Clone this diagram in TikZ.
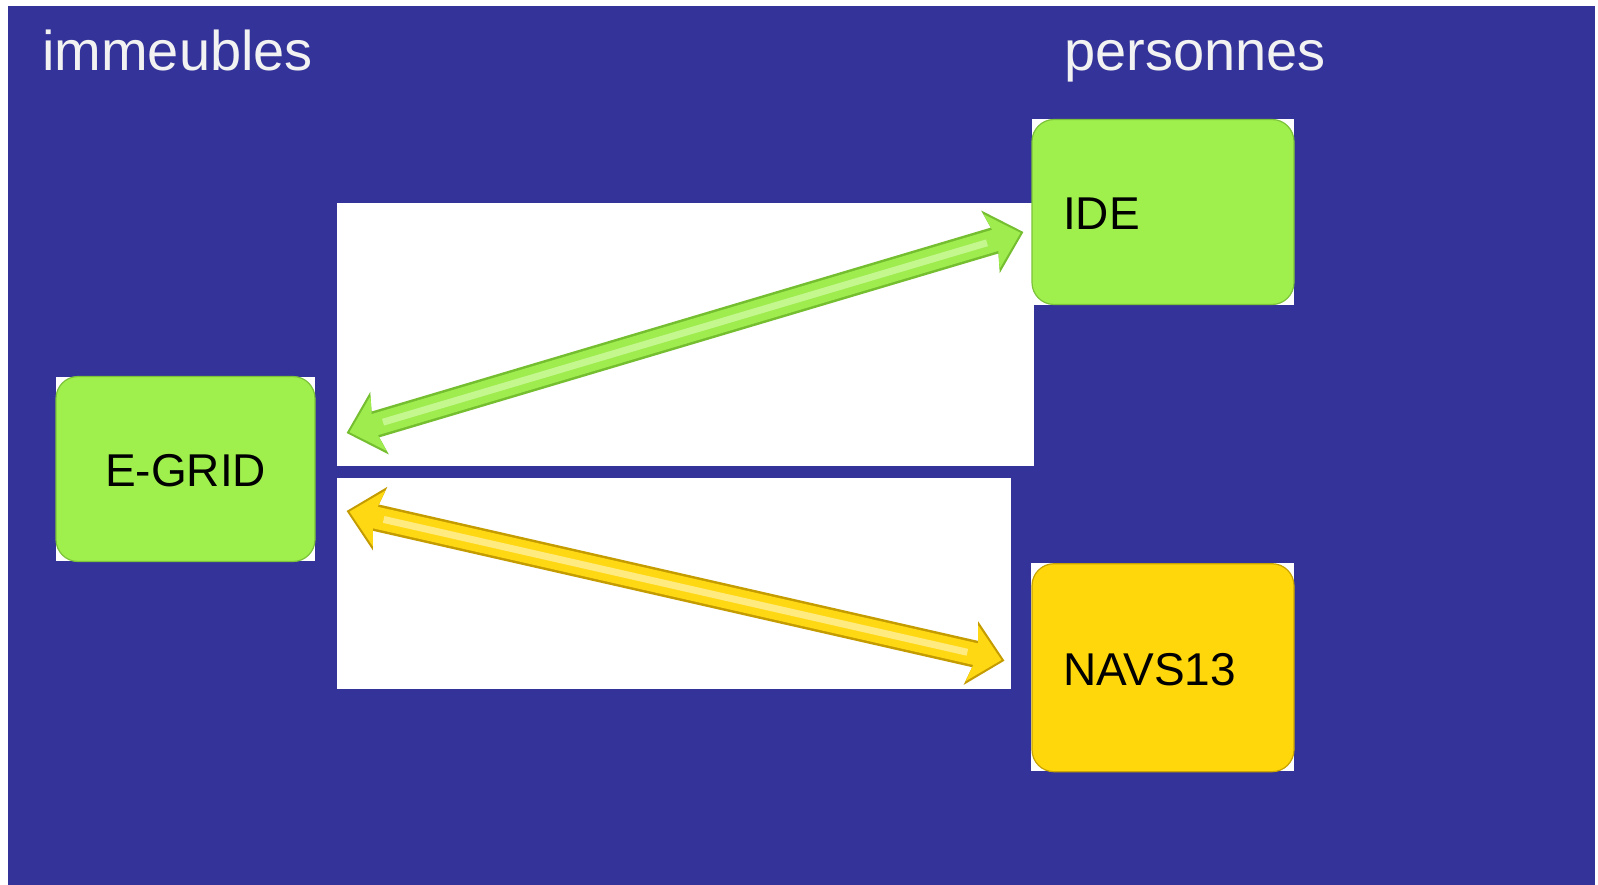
\documentclass[tikz,border=0pt]{standalone}
\usepackage{fontspec}
\setmainfont{Liberation Sans}
\usepackage{tikz}
\usetikzlibrary{arrows.meta,positioning}

\definecolor{slideblue}{HTML}{333399}
\definecolor{titlegray}{HTML}{F2F2F2}
\definecolor{boxgreen}{HTML}{9FF04C}
\definecolor{boxgreenedge}{HTML}{7CC23A}
\definecolor{boxyellow}{HTML}{FFD70A}
\definecolor{boxyellowedge}{HTML}{C9A400}
\definecolor{greenrim}{HTML}{74BE30}
\definecolor{greenbody}{HTML}{9EEC4E}
\definecolor{greenshine}{HTML}{C4F78E}
\definecolor{yellowrim}{HTML}{C49C00}
\definecolor{yellowbody}{HTML}{FFD814}
\definecolor{yellowshine}{HTML}{FFEB80}

\begin{document}
\begin{tikzpicture}[
        x=1pt, y=-1pt,
        title/.style={text=titlegray, inner sep=0pt, anchor=base west,
                      font=\fontsize{56}{60}\selectfont},
        block/.style={rectangle, rounded corners=22pt, draw=boxgreenedge, line width=1.2pt,
                      fill=boxgreen, minimum width=259pt, minimum height=185pt,
                      font=\fontsize{46}{50}\selectfont, inner sep=0pt,
                      text height=35pt, text depth=0pt},
        leftblock/.style={block, text width=200pt, align=left, inner xsep=31pt},
        backing/.style={fill=white, draw=none},
        link/.style={line width=27pt, {Stealth[length=34pt,width=64pt,inset=7pt]}-{Stealth[length=34pt,width=64pt,inset=7pt]}},
        body/.style={line width=22pt, shorten <=3pt, shorten >=3pt,
                     {Stealth[length=30pt,width=56pt,inset=6pt]}-{Stealth[length=30pt,width=56pt,inset=6pt]}},
        shine/.style={line width=7pt, shorten <=38pt, shorten >=38pt}
      ]
        % page and background
        \useasboundingbox [fill=white] (0,0) rectangle (1598,885);
        \fill [slideblue] (8,6) rectangle (1595,885);

        % Titles
        \node [title] (immeubles) at (42,71) {immeubles};
        \node [title] (personnes) at (1064,71) {personnes};

        % white backings of the pictures
        \fill [backing] (337,203) rectangle (1034,466);
        \fill [backing] (337,478) rectangle (1011,689);
        \fill [backing] (56,377) rectangle (315,561);
        \fill [backing] (1032,119) rectangle (1294,305);
        \fill [backing] (1031,563) rectangle (1294,771);

        % Blocks
        \node [block] (egrid) at (185.5,469) {E-GRID};
        \node [leftblock] (ide) at (1163,212) {IDE};
        \node [leftblock, below=258pt of ide, minimum height=208pt,
               fill=boxyellow, draw=boxyellowedge] (navs) {NAVS13};

        % arrow ends
        \coordinate (g1) at ([shift={(31,-36)}]egrid.east);
        \coordinate (g2) at ([shift={(-8,20)}]ide.west);
        \coordinate (y1) at ([shift={(31,42)}]egrid.east);
        \coordinate (y2) at ([shift={(-27,-7)}]navs.west);

        % Arrows
        \draw [link, greenrim] (g1) -- (g2);
        \draw [body, greenbody] (g1) -- (g2);
        \draw [shine, greenshine] (g1) -- (g2);
        \draw [link, yellowrim] (y1) -- (y2);
        \draw [body, yellowbody] (y1) -- (y2);
        \draw [shine, yellowshine] (y1) -- (y2);
      \end{tikzpicture}
\end{document}
